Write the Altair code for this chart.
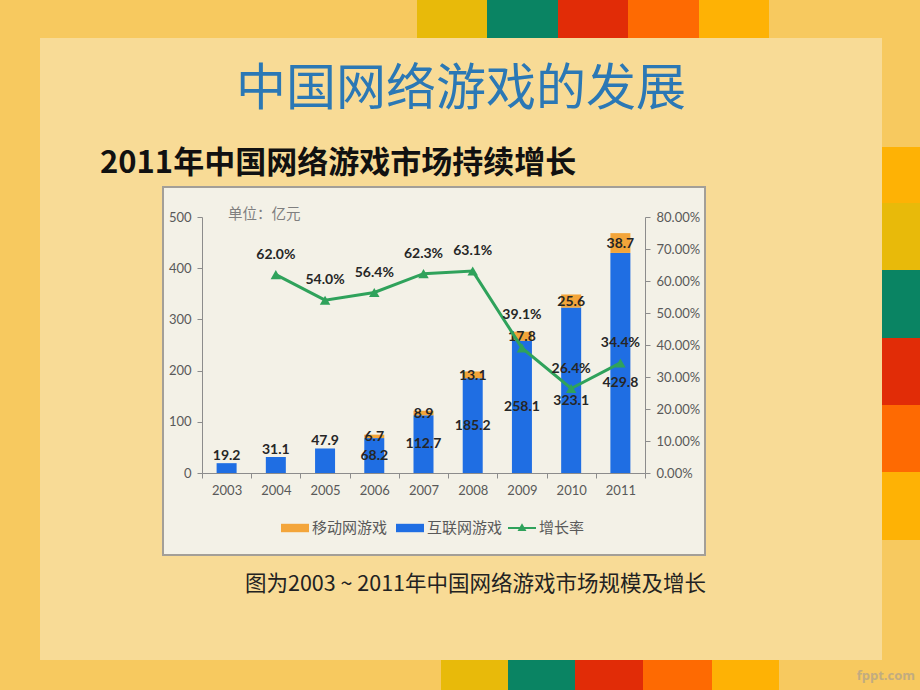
import altair as alt
import pandas as pd

# ---------------- data ----------------
years = ["2003", "2004", "2005", "2006", "2007", "2008", "2009", "2010", "2011"]
internet = [19.2, 31.1, 47.9, 68.2, 112.7, 185.2, 258.1, 323.1, 429.8]
mobile = [None, None, None, 6.7, 8.9, 13.1, 17.8, 25.6, 38.7]
growth = [None, 62.0, 54.0, 56.4, 62.3, 63.1, 39.1, 26.4, 34.4]

name_mobile = "移动网游戏"
name_internet = "互联网游戏"
name_growth = "增长率"

left_ticks = [0, 100, 200, 300, 400, 500]
right_ticks = [0, 10, 20, 30, 40, 50, 60, 70, 80]

title_text = "中国网络游戏的发展"
subtitle_text = "2011年中国网络游戏市场持续增长"
caption_text = "图为2003 ~ 2011年中国网络游戏市场规模及增长"
unit_text = "单位：亿元"
mark_text = "fppt.com"

# ---------------- style ----------------
BLUE = "#1F6EE3"
ORANGE = "#F3A53A"
GREEN = "#2FA25B"
BG = "#F7C95F"
PANEL = "#F8DB96"
BOX = "#F3F1E7"
GOLD, TEAL, RED, ORG, AMBER = "#E8BA0A", "#0A8463", "#E12C07", "#FE6A02", "#FEB205"
NUM_FONT = "Lato"
CJK = "Noto Sans CJK SC"

W, H = 443, 256
OX, OY = 202, 217  # plot origin on the page

df = pd.DataFrame({"year": years, "internet": internet, "mobile": mobile, "growth": growth})

rows = []
for yr, i, m in zip(years, internet, mobile):
    rows.append({"year": yr, "series": name_internet, "value": i})
    if m is not None:
        rows.append({"year": yr, "series": name_mobile, "value": m})
bars_df = pd.DataFrame(rows)

axis_common = dict(
    title=None, grid=False, domainColor="#8C8C8C", tickColor="#8C8C8C",
    labelColor="#595959", labelFont=NUM_FONT, labelFontSize=13, tickSize=5, zindex=1,
)


def X():
    return alt.X(
        "year:N",
        scale=alt.Scale(domain=years, paddingInner=0, paddingOuter=0),
        axis=alt.Axis(labelAngle=0, tickBand="extent", labelPadding=6, **axis_common),
    )


def YL(field, stack=None):
    return alt.Y(
        field, type="quantitative", stack=stack,
        scale=alt.Scale(domain=[0, 500], nice=False),
        axis=alt.Axis(values=left_ticks, labelPadding=6, **axis_common),
    )


def YR(field):
    return alt.Y(
        field, type="quantitative",
        scale=alt.Scale(domain=[0, 80], nice=False),
        axis=alt.Axis(orient="right", values=right_ticks, labelPadding=6,
                      labelExpr="format(datum.value, '.2f') + '%'", **axis_common),
    )


# ---------------- decorations ----------------
def rect(x1, x2, y1, y2, color, **kw):
    return alt.Chart(alt.Data(values=[{}])).mark_rect(color=color, **kw).encode(
        x=alt.value(x1 - OX), x2=alt.value(x2 - OX),
        y=alt.value(y1 - OY), y2=alt.value(y2 - OY),
    )


def label(text, x, y, **kw):
    return alt.Chart(alt.Data(values=[{"t": text}])).mark_text(**kw).encode(
        x=alt.value(x - OX), y=alt.value(y - OY), text="t:N"
    )


decor = []
stripe_cols = [GOLD, TEAL, RED, ORG, AMBER]
top_edges = [417, 487, 558, 628, 699, 769]
for c, a, b in zip(stripe_cols, top_edges[:-1], top_edges[1:]):
    decor.append(rect(a, b, 0, 38, c))
bot_edges = [441, 508, 575, 643, 712, 779]
for c, a, b in zip(stripe_cols, bot_edges[:-1], bot_edges[1:]):
    decor.append(rect(a, b, 660, 690, c))
right_cols = [AMBER, GOLD, TEAL, RED, ORG, AMBER]
right_edges = [147, 203, 270, 338, 405, 472, 540]
for c, a, b in zip(right_cols, right_edges[:-1], right_edges[1:]):
    decor.append(rect(882, 920, a, b, c))
decor.append(rect(40, 882, 38, 660, PANEL))
decor.append(rect(163, 705, 187, 555, BOX, stroke="#A39F98", strokeWidth=2))

texts = [
    label(title_text, 461, 90, font=CJK, fontSize=50, color="#2B78B5", align="center", baseline="middle"),
    label(subtitle_text, 100, 164, font=CJK, fontSize=31, fontWeight="bold", color="#111111",
          align="left", baseline="middle"),
    label(caption_text, 706, 585, font=CJK, fontSize=21.5, color="#222222", align="right", baseline="middle"),
    label(unit_text, 228, 215, font=CJK, fontSize=14.5, color="#7F7F7F", align="left", baseline="middle"),
    label(mark_text, 915, 676, font="Open Sans", fontSize=13, fontWeight="bold", color="#C2AC80",
          align="right", baseline="middle"),
]

# ---------------- left (bars) ----------------
bars = alt.Chart(bars_df).transform_calculate(
    rank=f"datum.series == '{name_internet}' ? 0 : 1"
).mark_bar(size=20).encode(
    x=X(),
    y=YL("value", stack="zero"),
    fill=alt.Fill(
        "series:N",
        scale=alt.Scale(domain=[name_mobile, name_internet], range=[ORANGE, BLUE]),
        legend=alt.Legend(
            orient="none", legendX=79, legendY=297, direction="horizontal", title=None,
            symbolType="M-1,-0.3H1V0.3H-1Z", symbolSize=784, symbolStrokeWidth=0,
            labelFont=CJK, labelFontSize=15, labelColor="#595959", labelOffset=3,
            columnPadding=8, padding=0,
        ),
    ),
    order=alt.Order("rank:Q", sort="ascending"),
)

txt = dict(font=NUM_FONT, fontSize=14, fontWeight="bold", color="#262626", baseline="middle")
base = alt.Chart(df)


def inet_label(sel, ycol, dy):
    return base.transform_filter(
        alt.FieldOneOfPredicate(field="year", oneOf=sel)
    ).transform_calculate(mid="datum.internet / 2").mark_text(dy=dy, **txt).encode(
        x=X(), y=YL(ycol), text=alt.Text("internet:Q", format=".1f")
    )


lab_a = inet_label(years[0:3], "internet", -7)
lab_b = inet_label(years[3:7], "mid", 0)
lab_c = inet_label(years[7:8], "mid", 11)
lab_d = inet_label(years[8:9], "mid", 20)

mob_lab = base.transform_filter("datum.mobile != null").transform_calculate(
    mmid="datum.internet + datum.mobile / 2"
).mark_text(dy=1, **txt).encode(
    x=X(), y=YL("mmid"), text=alt.Text("mobile:Q", format=".1f")
)

left = alt.layer(bars, lab_a, lab_b, lab_c, lab_d, mob_lab)

# ---------------- right (growth line) ----------------
gbase = base.transform_filter("datum.growth != null").transform_calculate(
    sname=f"'{name_growth}'", glab="format(datum.growth, '.1f') + '%'"
)
line = gbase.mark_line(color=GREEN, strokeWidth=3).encode(x=X(), y=YR("growth"))
pts = gbase.mark_point(shape="triangle-up", filled=True, size=110, opacity=1).encode(
    x=X(), y=YR("growth"),
    fill=alt.Fill(
        "sname:N",
        scale=alt.Scale(domain=[name_growth], range=[GREEN]),
        legend=alt.Legend(
            orient="none", legendX=306, legendY=297, direction="horizontal", title=None,
            symbolType="M-1,-0.08H1V0.08H-1Z M0,-0.34L0.32,0.22L-0.32,0.22Z",
            symbolSize=784, symbolStrokeWidth=0,
            labelFont=CJK, labelFontSize=15, labelColor="#595959", labelOffset=3, padding=0,
        ),
    ),
)
g_lab = gbase.transform_filter(alt.FieldOneOfPredicate(field="year", oneOf=["2009"])).mark_text(
    dy=-33, **txt
).encode(x=X(), y=YR("growth"), text="glab:N")
g_lab2 = gbase.transform_filter("datum.year != '2009'").mark_text(dy=-20, **txt).encode(
    x=X(), y=YR("growth"), text="glab:N"
)

right = alt.layer(line, pts, g_lab, g_lab2)

chart = alt.layer(*decor, *texts, left, right).resolve_scale(
    y="independent", fill="independent"
).properties(
    width=W, height=H,
    autosize=alt.AutoSizeParams(type="none"),
    padding={"left": OX, "top": OY, "right": 920 - OX - W, "bottom": 690 - OY - H},
    background=BG,
).configure_view(strokeWidth=0)

chart.save("out.html", embed_options={"renderer": "svg", "actions": False})
